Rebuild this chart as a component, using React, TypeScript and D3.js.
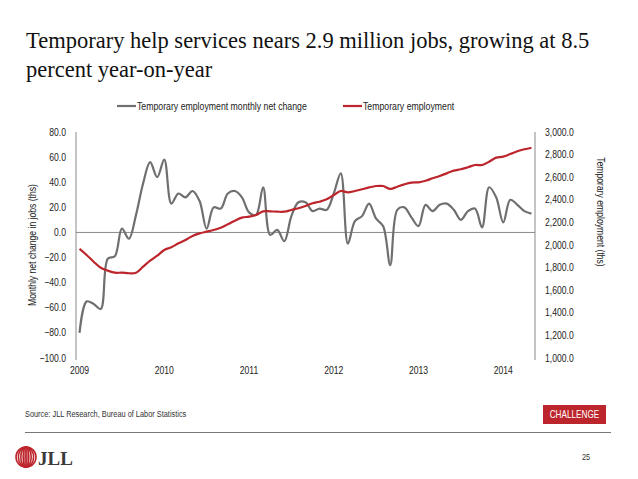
import React from "react";
import * as d3 from "d3";

// Month-by-month series, Jan 2009 – May 2014
const months: Date[] = d3.timeMonths(new Date(2009, 0, 1), new Date(2014, 5, 1));

// Temporary employment monthly net change (thousands)
const netChange: number[] = [
  -80, -55, -57, -61, -21, -19, 3, -5, 14, 39, 56, 44,
  58, 23, 31, 28, 33, 25, 3, 20, 19, 31, 33, 28,
  16, 14, 36, -2, 2, -7, 13, 24, 24, 17, 19, 18,
  31, 47, -9, 9, 13, 23, 11, 5, -26, 18, 20, 12,
  5, 22, 17, 22, 23, 18, 10, 17, 19, 4, 36, 28,
  8, 26, 22, 17, 15,
];

// Temporary employment level (thousands)
const employment: number[] = [
  1965, 1912, 1852, 1799, 1773, 1755, 1755, 1750, 1755, 1808, 1861, 1905,
  1956, 1980, 2015, 2044, 2080, 2103, 2118, 2133, 2153, 2183, 2215, 2242,
  2251, 2265, 2298, 2298, 2295, 2295, 2310, 2325, 2345, 2369, 2383, 2404,
  2442, 2478, 2466, 2478, 2493, 2510, 2522, 2522, 2496, 2516, 2537, 2552,
  2555, 2569, 2590, 2611, 2634, 2658, 2670, 2688, 2708, 2708, 2737, 2773,
  2782, 2805, 2829, 2847, 2861,
];

const leftTicks: number[] = [80, 60, 40, 20, 0, -20, -40, -60, -80, -100];
const rightTicks: number[] = [3000, 2800, 2600, 2400, 2200, 2000, 1800, 1600, 1400, 1200, 1000];
const yearLabels: string[] = ["2009", "2010", "2011", "2012", "2013", "2014"];

const seriesNames: string[] = ["Temporary employment monthly net change", "Temporary employment"];

const GRAY = "#6f6f6f";
const RED = "#bd252c";
const SANS = "'Liberation Sans', Arial, sans-serif";
const SERIF = "'Liberation Serif', 'Times New Roman', serif";

// Condensed sans text: regular sans squeezed horizontally
function NText({
  x,
  y,
  size = 10,
  anchor = "start",
  fill = "#222",
  rotate = 0,
  squeeze = 0.82,
  children,
}: {
  x: number;
  y: number;
  size?: number;
  anchor?: "start" | "middle" | "end";
  fill?: string;
  rotate?: number;
  squeeze?: number;
  children: React.ReactNode;
}) {
  return (
    <text
      transform={`translate(${x},${y}) rotate(${rotate}) scale(${squeeze},1)`}
      textAnchor={anchor}
      fontFamily={SANS}
      fontSize={size}
      fill={fill}
    >
      {children}
    </text>
  );
}

export default function App() {
  const plotL = 76;
  const plotR = 535;
  const plotT = 132;
  const plotB = 358;

  const x = d3
    .scaleBand<number>()
    .domain(months.map((_, i) => i))
    .range([plotL, plotR]);
  const cx = (i: number) => (x(i) as number) + x.bandwidth() / 2;

  const yL = d3.scaleLinear().domain([-100, 80]).range([plotB, plotT]);
  const yR = d3.scaleLinear().domain([1000, 3000]).range([plotB, plotT]);

  const lineNet = d3
    .line<number>()
    .x((_, i) => cx(i))
    .y((d) => yL(d))
    .curve(d3.curveCatmullRom.alpha(0.5));
  const lineEmp = d3
    .line<number>()
    .x((_, i) => cx(i))
    .y((d) => yR(d))
    .curve(d3.curveCatmullRom.alpha(0.5));

  const fmt = d3.format(",.1f");
  const fmtL = d3.format(".1f");

  const janIdx = months.map((m, i) => (m.getMonth() === 0 ? i : -1)).filter((i) => i >= 0);

  return (
    <svg
      width={638}
      height={479}
      style={{ position: "absolute", left: 0, top: 0, background: "#fff" }}
    >
      {/* Title */}
      <text x={26} y={48} fontFamily={SERIF} fontSize={22.5} fill="#111">
        Temporary help services nears 2.9 million jobs, growing at 8.5
      </text>
      <text x={26} y={77} fontFamily={SERIF} fontSize={22.5} fill="#111">
        percent year-on-year
      </text>

      {/* Legend */}
      <line x1={117} x2={136} y1={106} y2={106} stroke={GRAY} strokeWidth={2.2} />
      <NText x={137} y={109.5} size={10.4} squeeze={0.84}>
        {seriesNames[0]}
      </NText>
      <line x1={343} x2={362} y1={106} y2={106} stroke={RED} strokeWidth={2.2} />
      <NText x={363} y={109.5} size={10.4} squeeze={0.84}>
        {seriesNames[1]}
      </NText>

      {/* Axes lines */}
      <line x1={plotL} x2={plotL} y1={plotT} y2={plotB + 2} stroke="#8a8a8a" strokeWidth={1} />
      <line x1={plotR} x2={plotR} y1={plotT} y2={plotB + 2} stroke="#8a8a8a" strokeWidth={1} />
      <line x1={plotL} x2={plotR} y1={yL(0)} y2={yL(0)} stroke="#8a8a8a" strokeWidth={1} />

      {/* Left ticks */}
      {leftTicks.map((t) => (
        <NText key={"l" + t} x={66} y={yL(t) + 3.5} anchor="end" size={10.5}>
          {fmtL(t)}
        </NText>
      ))}
      {/* Right ticks */}
      {rightTicks.map((t) => (
        <NText key={"r" + t} x={545} y={yR(t) + 3.5} size={10.5}>
          {fmt(t)}
        </NText>
      ))}
      {/* Year labels */}
      {janIdx.map((i, k) => (
        <NText key={"x" + i} x={cx(i)} y={374} anchor="middle" size={10.5}>
          {yearLabels[k]}
        </NText>
      ))}

      {/* Axis titles */}
      <NText x={36} y={245} anchor="middle" size={10.5} rotate={-90}>
        Monthly net change in jobs (ths)
      </NText>
      <NText x={597} y={212} anchor="middle" size={10.5} rotate={90}>
        Temporary employment (ths)
      </NText>

      {/* Series */}
      <path d={lineNet(netChange) || ""} fill="none" stroke={GRAY} strokeWidth={2.2} strokeLinejoin="round" />
      <path d={lineEmp(employment) || ""} fill="none" stroke={RED} strokeWidth={2.2} strokeLinejoin="round" />

      {/* Footer */}
      <NText x={25} y={417} size={8.8} squeeze={0.84} fill="#333">
        Source: JLL Research, Bureau of Labor Statistics
      </NText>
      <rect x={543} y={405} width={63} height={19} fill={RED} />
      <NText x={574.5} y={418} anchor="middle" size={10} fill="#fff">
        CHALLENGE
      </NText>
      <line x1={25} x2={611} y1={432.5} y2={432.5} stroke="#777" strokeWidth={1} />

      {/* Logo */}
      <g>
        {[10, 7.6, 5.2, 2.8, 0.9].map((rx, k) => (
          <ellipse key={k} cx={26} cy={457} rx={rx} ry={10} fill="none" stroke={RED} strokeWidth={1.6} />
        ))}
        <text x={38} y={465} fontFamily={SERIF} fontWeight="bold" fontSize={19} fill="#3a3a3a">
          JLL
        </text>
      </g>
      <NText x={586} y={460} anchor="middle" size={9} fill="#333">
        25
      </NText>
    </svg>
  );
}
